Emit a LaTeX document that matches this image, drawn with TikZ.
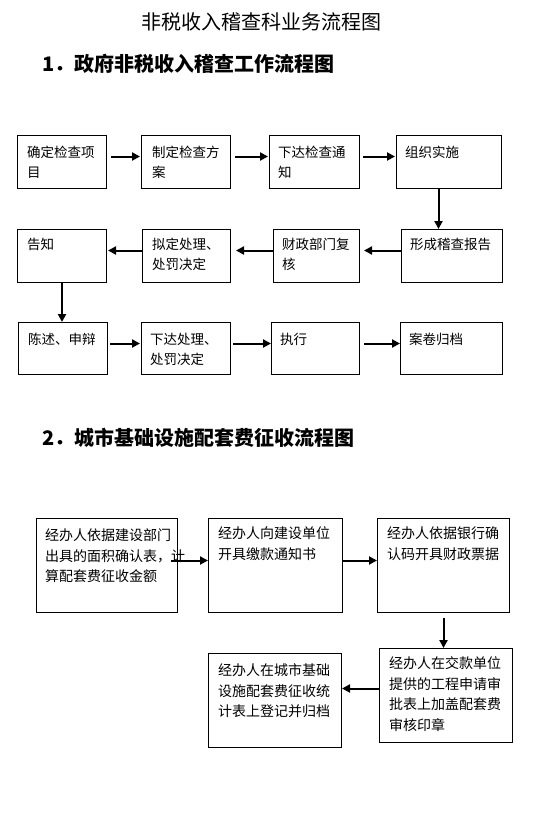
\documentclass[tikz,border=0pt]{standalone}
\usepackage{fontspec}
\setmainfont{Noto Sans CJK SC}
\usetikzlibrary{arrows.meta}
\begin{document}
\begin{tikzpicture}[x=1pt,y=-1pt,
 box/.style={draw,line width=1pt,anchor=north west,inner sep=0pt},
 txt/.style={anchor=north west,inner sep=0pt,align=left,font=\fontsize{13.5}{20}\selectfont},
 txtb/.style={anchor=north west,inner sep=0pt,align=left,font=\fontsize{14}{20.5}\selectfont},
 head/.style={inner sep=0pt,font=\fontsize{20}{24}\selectfont\bfseries},
 arr/.style={line width=2pt,-{Triangle[length=8pt,width=8pt]}}]
\useasboundingbox (0,0) rectangle (553,832);
\node[inner sep=0pt,font=\fontsize{20}{24}\selectfont] (title) at (261.5,21.5) {非税收入稽查科业务流程图};
\node[head,anchor=west] (h1) at (42,63.5) {1．政府非税收入稽查工作流程图};
\node[head,anchor=west] (h2) at (42,437.5) {2．城市基础设施配套费征收流程图};
% row 1
\node[box,minimum width=89pt,minimum height=53pt] (b1) at (17,135) {};
\node[box,minimum width=89pt,minimum height=53pt] (b2) at (141,135) {};
\node[box,minimum width=90pt,minimum height=53pt] (b3) at (269,135) {};
\node[box,minimum width=105pt,minimum height=53pt] (b4) at (396,135) {};
\node[txt] (tb1) at ([shift={(10pt,-11pt)}]b1.north west) {确定检查项\\目};
\node[txt] (tb2) at ([shift={(11pt,-11pt)}]b2.north west) {制定检查方\\案};
\node[txt] (tb3) at ([shift={(9pt,-11pt)}]b3.north west) {下达检查通\\知};
\node[txt] (tb4) at ([shift={(9pt,-11pt)}]b4.north west) {组织实施};
% row 2
\node[box,minimum width=89pt,minimum height=53pt] (c1) at (17,229) {};
\node[box,minimum width=88pt,minimum height=53pt] (c2) at (142,229) {};
\node[box,minimum width=86pt,minimum height=53pt] (c3) at (273,229) {};
\node[box,minimum width=101pt,minimum height=53pt] (c4) at (401,229) {};
\node[txt] (tc1) at ([shift={(10pt,-9pt)}]c1.north west) {告知};
\node[txt] (tc2) at ([shift={(10pt,-9pt)}]c2.north west) {拟定处理、\\处罚决定};
\node[txt] (tc3) at ([shift={(9pt,-9pt)}]c3.north west) {财政部门复\\核};
\node[txt] (tc4) at ([shift={(9pt,-9pt)}]c4.north west) {形成稽查报告};
% row 3
\node[box,minimum width=89pt,minimum height=52pt] (d1) at (18,322) {};
\node[box,minimum width=89pt,minimum height=52pt] (d2) at (141,322) {};
\node[box,minimum width=88pt,minimum height=52pt] (d3) at (271,322) {};
\node[box,minimum width=102pt,minimum height=52pt] (d4) at (400,322) {};
\node[txt] (td1) at ([shift={(10pt,-11pt)}]d1.north west) {陈述、申辩};
\node[txt] (td2) at ([shift={(9pt,-11pt)}]d2.north west) {下达处理、\\处罚决定};
\node[txt] (td3) at ([shift={(9pt,-11pt)}]d3.north west) {执行};
\node[txt] (td4) at ([shift={(9pt,-11pt)}]d4.north west) {案卷归档};
% arrows section 1
\draw[arr,shorten <=4pt,shorten >=1pt] ([yshift=5.5pt]b1.east) -- ([yshift=5.5pt]b1.east -| b2.west);
\draw[arr,shorten <=4pt,shorten >=1pt] ([yshift=5.5pt]b2.east) -- ([yshift=5.5pt]b2.east -| b3.west);
\draw[arr,shorten <=3pt,shorten >=1pt] ([yshift=5.5pt]b3.east) -- ([yshift=5.5pt]b3.east -| b4.west);
\draw[arr] ([xshift=-10.5pt]b4.south) -- ([xshift=-10.5pt]b4.south |- c4.north);
\draw[arr,shorten >=4pt] ([yshift=5.5pt]c4.west) -- ([yshift=5.5pt]c4.west -| c3.east);
\draw[arr,shorten >=5pt] ([yshift=5.5pt]c3.west) -- ([yshift=5.5pt]c3.west -| c2.east);
\draw[arr,shorten >=1pt] ([yshift=5.5pt]c2.west) -- ([yshift=5.5pt]c2.west -| c1.east);
\draw[arr] (c1.south) -- (c1.south |- d1.north);
\draw[arr,shorten <=2pt,shorten >=1pt] ([yshift=5pt]d1.east) -- ([yshift=5pt]d1.east -| d2.west);
\draw[arr,shorten <=2pt] ([yshift=5pt]d2.east) -- ([yshift=5pt]d2.east -| d3.west);
\draw[arr,shorten <=4pt] ([yshift=5pt]d3.east) -- ([yshift=5pt]d3.east -| d4.west);
% section 2
\node[box,minimum width=141pt,minimum height=94pt] (A) at (36,518) {};
\node[box,minimum width=134pt,minimum height=94pt] (B) at (208,518) {};
\node[box,minimum width=132pt,minimum height=94pt] (C) at (377,518) {};
\node[box,minimum width=133pt,minimum height=94pt] (D) at (379,648) {};
\node[box,minimum width=133pt,minimum height=94pt] (E) at (208,653) {};
\node[txtb] (tA) at ([shift={(9pt,-10.5pt)}]A.north west) {经办人依据建设部门\\出具的面积确认表，计\\算配套费征收金额};
\node[txtb] (tB) at ([shift={(10pt,-8.5pt)}]B.north west) {经办人向建设单位\\开具缴款通知书};
\node[txtb] (tC) at ([shift={(10pt,-8.5pt)}]C.north west) {经办人依据银行确\\认码开具财政票据};
\node[txtb] (tD) at ([shift={(10pt,-8.5pt)}]D.north west) {经办人在交款单位\\提供的工程申请审\\批表上加盖配套费\\审核印章};
\node[txtb] (tE) at ([shift={(10pt,-10.5pt)}]E.north west) {经办人在城市基础\\设施配套费征收统\\计表上登记并归档};
\draw[arr] ([shift={(-7pt,5pt)}]A.east) -- ([yshift=5pt]A.east -| B.west);
\draw[arr] ([yshift=5pt]B.east) -- ([yshift=5pt]B.east -| C.west);
\draw[arr,shorten <=5pt] (C.south) -- (C.south |- D.north);
\draw[arr] ([yshift=7pt]D.west) -- ([yshift=7pt]D.west -| E.east);
\end{tikzpicture}
\end{document}
